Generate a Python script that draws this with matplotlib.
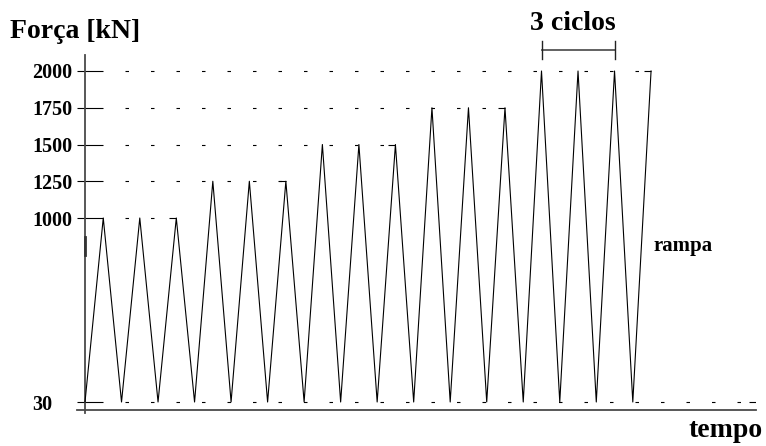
import numpy as np
import matplotlib
matplotlib.use("Agg")
import matplotlib.pyplot as plt
from matplotlib.transforms import blended_transform_factory

# ---- data ----
time = [0, 1, 2, 3, 4, 5, 6, 7, 8, 9, 10, 11, 12, 13, 14, 15,
        16, 17, 18, 19, 20, 21, 22, 23, 24, 25, 26, 27, 28, 29, 30, 31]
force = [30, 1000, 30, 1000, 30, 1000, 30, 1250, 30, 1250, 30, 1250,
         30, 1500, 30, 1500, 30, 1500, 30, 1750, 30, 1750, 30, 1750,
         30, 2000, 30, 2000, 30, 2000, 30, 2000]
levels = [30, 1000, 1250, 1500, 1750, 2000]
level_labels = ["30", "1000", "1250", "1500", "1750", "2000"]

plt.rcParams["font.family"] = ["Liberation Serif", "DejaVu Serif"]
plt.rcParams["font.weight"] = "bold"
plt.rcParams["lines.scale_dashes"] = False

W, H = 766, 446
fig = plt.figure(figsize=(W / 100, H / 100), dpi=100)
ax_l, ax_r, ax_t, ax_b = 77, 756, 55, 413
ax = fig.add_axes([ax_l / W, (H - ax_b) / H, (ax_r - ax_l) / W, (ax_b - ax_t) / H])

# piecewise (broken) force scale, as in the sketch
_dp = [-100, 0, 30, 1000, 2000, 3000]
_sp = [-26.7, 0, 8, 192, 339, 486]
def fwd(y):
    return np.interp(y, _dp, _sp)
def inv(s):
    return np.interp(s, _sp, _dp)
ax.set_yscale("function", functions=(fwd, inv))

px_per_t = 18.26
x0_px = 85
ax.set_xlim((ax_l - x0_px) / px_per_t, (ax_r - x0_px) / px_per_t)
ax.set_ylim(inv(-3), inv(355))

# reference lines (solid tick + dashed guide up to the last peak)
xmin, xmax = ax.get_xlim()
dash = (2.52, (2.52, 15.84))
for lv in levels:
    if lv == levels[0]:
        end = xmax
    else:
        end = max(t for t, f in zip(time, force) if f == lv)
    ax.plot([xmin, time[1]], [lv, lv], color="black", lw=0.8, zorder=2,
            solid_capstyle="butt")
    ax.plot([time[1], end], [lv, lv], color="black", lw=0.8,
            linestyle=dash, zorder=2)
    ax.plot([end - 0.4, end], [lv, lv], color="black", lw=0.8, zorder=2,
            solid_capstyle="butt")

# load history
ax.plot(time, force, color="black", lw=0.8, zorder=3)

# axes
for s in ["top", "right"]:
    ax.spines[s].set_visible(False)
ax.spines["left"].set_position(("data", 0))
ax.spines["bottom"].set_position(("data", 0))
for s in ["left", "bottom"]:
    ax.spines[s].set_color("#4a4a4a")
    ax.spines[s].set_linewidth(1.3)
ax.set_xticks([])
ax.set_yticks(levels)
ax.set_yticklabels(level_labels)
ax.tick_params(axis="y", length=0, pad=(x0_px - 32) * 0.72, labelsize=14.5)
for lab in ax.get_yticklabels():
    lab.set_horizontalalignment("left")
    lab.set_fontweight("bold")

# axis break mark
tr = blended_transform_factory(ax.transData, ax.transAxes)
ax.plot([0, 0], [(ax_b - 255) / (ax_b - ax_t), (ax_b - 237) / (ax_b - ax_t)],
        color="#333333", lw=2.0, transform=tr, clip_on=False, zorder=4)

# bracket for "3 ciclos"
peaks2000 = [t for t, f in zip(time, force) if f == 2000][:3]
xa, xb = peaks2000[0], peaks2000[-1]
def yfrac(px):
    return (ax_b - px) / (ax_b - ax_t)
ax.plot([xa, xb], [yfrac(50), yfrac(50)], color="#555555", lw=1.3,
        transform=tr, clip_on=False)
for xx in (xa, xb):
    ax.plot([xx, xx], [yfrac(59), yfrac(41)], color="#222222", lw=1.0,
            transform=tr, clip_on=False)

# texts
fig.text(10 / W, 1 - 38 / H, "Força [kN]", fontsize=20, fontweight="bold",
         ha="left", va="baseline")
fig.text(573 / W, 1 - 30 / H, "3 ciclos", fontsize=20, fontweight="bold",
         ha="center", va="baseline")
fig.text(763 / W, 1 - 437 / H, "tempo", fontsize=20, fontweight="bold",
         ha="right", va="baseline")
fig.text(653 / W, 1 - 251 / H, "rampa", fontsize=15, fontweight="bold",
         ha="left", va="baseline")

fig.savefig("out.png", dpi=100)
